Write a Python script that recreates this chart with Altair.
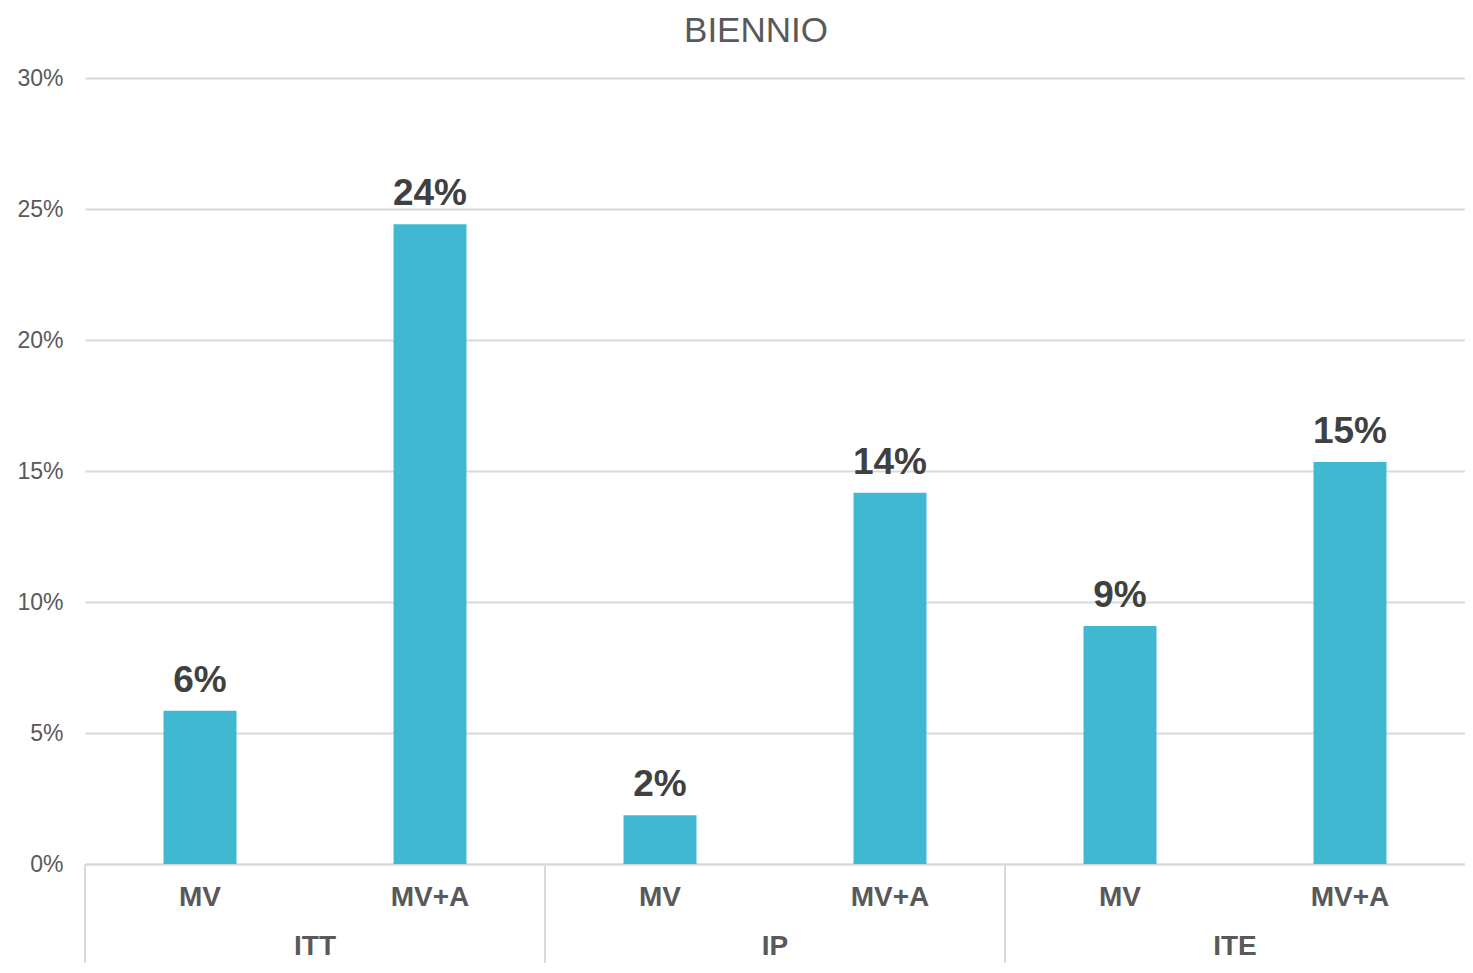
import altair as alt
import pandas as pd

groups = ["ITT", "ITT", "IP", "IP", "ITE", "ITE"]
subs = ["MV", "MV+A", "MV", "MV+A", "MV", "MV+A"]
values = [0.0585, 0.2442, 0.0186, 0.1417, 0.0908, 0.1534]
labels = ["6%", "24%", "2%", "14%", "9%", "15%"]
group_names = ["ITT", "IP", "ITE"]

keys = [g + "|" + s for g, s in zip(groups, subs)]
df = pd.DataFrame({"key": keys, "group": groups, "sub": subs, "value": values, "label": labels})
gdf = pd.DataFrame({"key": [g + "|MV" for g in group_names], "group": group_names})

W, H = 1380, 786
FONT = "Liberation Sans"
GRID = "#D9D9D9"

xscale = alt.Scale(domain=keys, paddingInner=0, paddingOuter=0)

base_x = alt.X(
    "key:N",
    scale=xscale,
    sort=keys,
    axis=alt.Axis(
        title=None,
        labelExpr="split(datum.label, '|')[1]",
        labelAngle=0,
        labelFontSize=28,
        labelFontWeight="bold",
        labelColor="#595959",
        labelFont=FONT,
        labelPadding=19,
        ticks=False,
        domainColor=GRID,
        domainWidth=2,
    ),
)

bars = alt.Chart(df).mark_bar(size=73, color="#40B8D2").encode(
    x=base_x,
    y=alt.Y(
        "value:Q",
        scale=alt.Scale(domain=[0, 0.3]),
        axis=alt.Axis(
            title=None,
            values=[0, 0.05, 0.1, 0.15, 0.2, 0.25, 0.3],
            format=".0%",
            labelFontSize=23,
            labelColor="#595959",
            labelFont=FONT,
            labelPadding=22,
            ticks=False,
            domain=False,
            gridColor=GRID,
            gridWidth=2,
        ),
    ),
)

text = alt.Chart(df).mark_text(
    baseline="alphabetic", dy=-19, fontSize=37, fontWeight="bold", color="#404040", font=FONT
).encode(
    x=alt.X("key:N", scale=xscale, sort=keys),
    y="value:Q",
    text="label:N",
)

glabels = alt.Chart(gdf).mark_text(
    baseline="middle", fontSize=28, fontWeight="bold", color="#595959", font=FONT
).encode(
    x=alt.X("key:N", scale=xscale, sort=keys, bandPosition=1),
    y=alt.value(H + 83),
    text="group:N",
)

seps = alt.Chart(gdf).mark_rule(color=GRID, strokeWidth=2).encode(
    x=alt.X("key:N", scale=xscale, sort=keys, bandPosition=0),
    y=alt.value(H),
    y2=alt.value(H + 120),
)

chart = alt.layer(bars, text, glabels, seps).properties(
    width=W,
    height=H,
    title=alt.TitleParams(
        "BIENNIO", fontSize=35, fontWeight="normal", color="#595959", font=FONT,
        anchor="middle", offset=18, dx=-19,
    ),
    autosize=alt.AutoSizeParams(type="none"),
    padding={"left": 77, "top": 70, "right": 0, "bottom": 99},
).configure_view(stroke=None)

chart.save("out.html", embed_options={"renderer": "svg", "actions": False})
